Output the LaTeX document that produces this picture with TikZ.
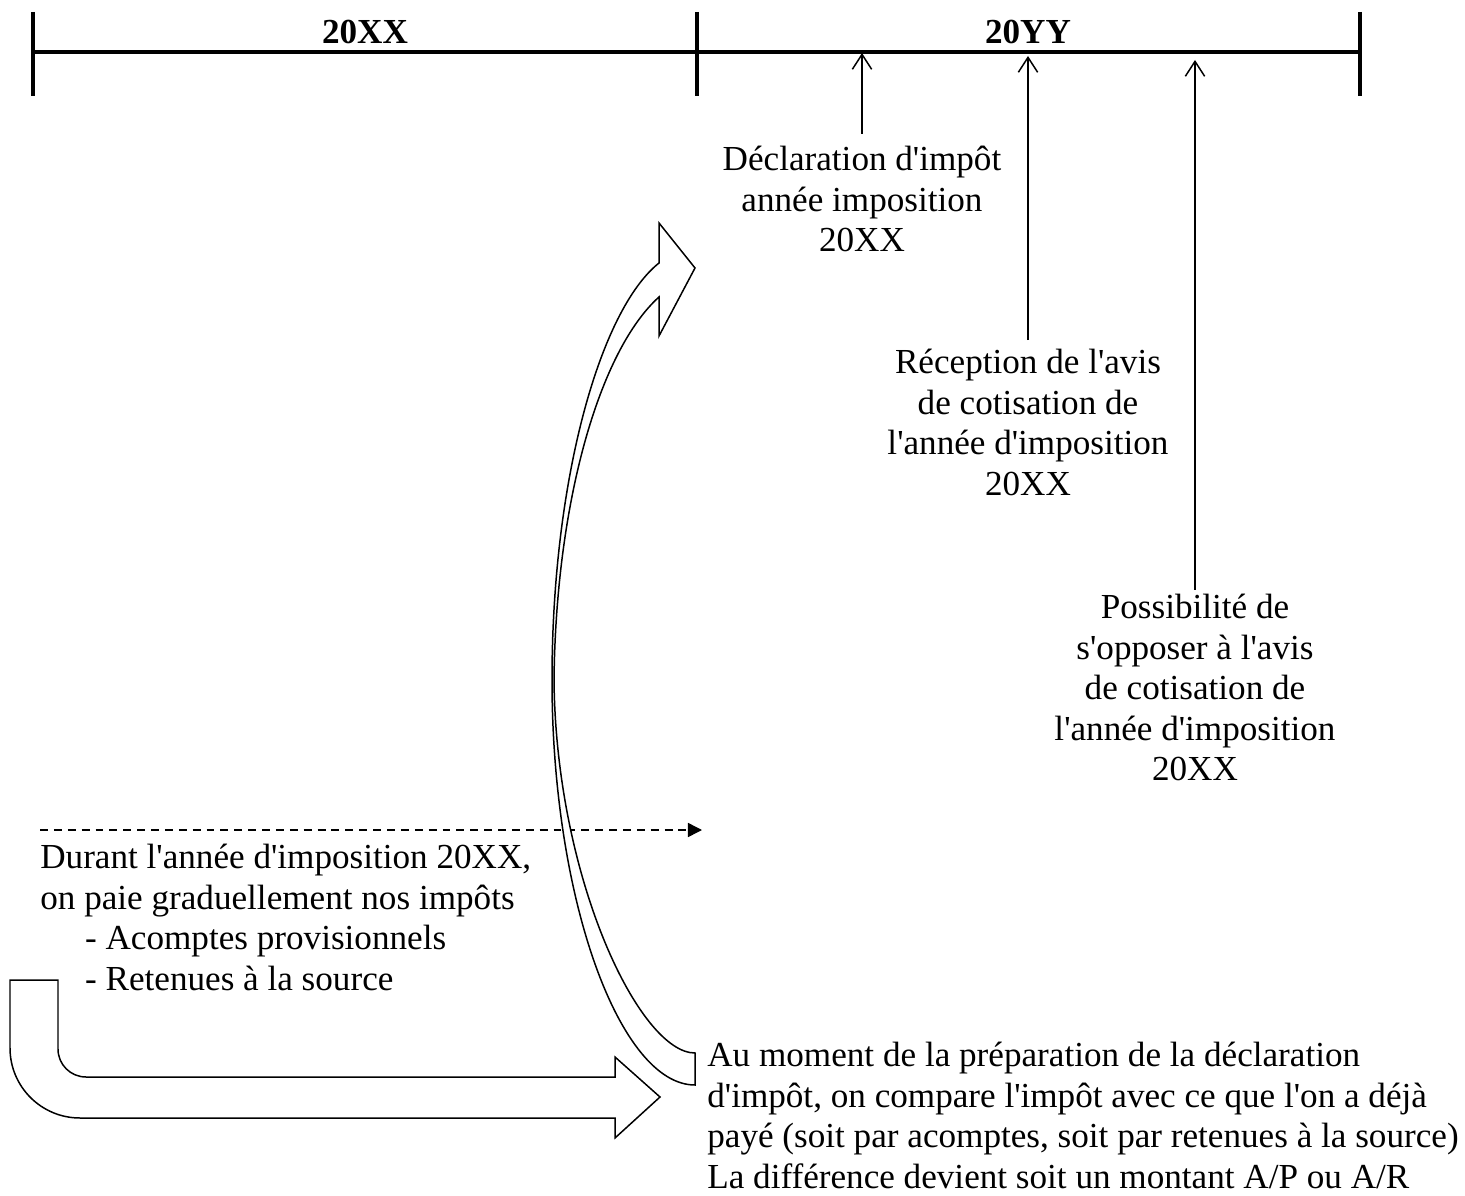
\documentclass[tikz,border=0pt]{standalone}
\usepackage{fontspec}
\newfontfamily\lbl{Liberation Serif}
\usetikzlibrary{arrows.meta}

\begin{document}
\begin{tikzpicture}[x=0.02cm, y=-0.02cm,
  txt/.style={font=\lbl\fontsize{20pt}{23pt}\selectfont, inner sep=0pt},
  year/.style={font=\lbl\bfseries\fontsize{20pt}{23pt}\selectfont, inner sep=0pt, anchor=base},
  axis/.style={line width=2.3pt},
  callout/.style={line width=0.85pt, -{Straight Barb[length=8.5pt,width=11pt,line width=0.85pt]}},
  flow/.style={line width=0.85pt, dash pattern=on 4.5pt off 3.4pt, -{Triangle[length=8pt,width=8pt]}},
  blockarrow/.style={line width=0.85pt, fill=white, line join=miter}]
\useasboundingbox (0,0) rectangle (1465,1196);

% time axis with the two years
\coordinate (y0) at (33,52);
\coordinate (y2) at (1360,52);
\draw[axis] (y0) -- (y2);
\foreach \x in {33,697,1360} \draw[axis] (\x,12) -- (\x,96);
\node[year] (yrA) at (365,44) {20XX};
\node[year] (yrB) at (1028,44) {20YY};

% events of the second year
\coordinate (m1) at (862,53);
\coordinate (m2) at (1028,56);
\coordinate (m3) at (1195,60);
\node[txt, align=center, anchor=north] (decl) at (862,146)
  {Déclaration d'impôt\\année imposition\\20XX};
\node[txt, align=center, anchor=north] (avis) at (1028,349)
  {Réception de l'avis\\de cotisation de\\l'année d'imposition\\20XX};
\node[txt, align=center, anchor=north] (oppo) at (1195,594)
  {Possibilité de\\s'opposer à l'avis\\de cotisation de\\l'année d'imposition\\20XX};
\draw[callout, shorten <=7pt] (decl.north) -- (m1);
\draw[callout, shorten <=5pt] (avis.north) -- (m2);
\draw[callout, shorten <=2.3pt] (oppo.north) -- (m3);

% payments during the first year
\coordinate (d0) at (40,830);
\coordinate (d1) at (702,830);
\draw[flow] (d0) -- (d1);
\node[txt, align=left, anchor=north west] (during) at (40,844)
  {Durant l'année d'imposition 20XX,\\
   on paie graduellement nos impôts\\
   \hspace*{25.5pt}- Acomptes provisionnels\\
   \hspace*{25.5pt}- Retenues à la source};

\node[txt, align=left, anchor=north west] (compare) at (707,1042)
  {Au moment de la préparation de la déclaration\\
   d'impôt, on compare l'impôt avec ce que l'on a déjà\\
   payé (soit par acomptes, soit par retenues à la source)\\
   La différence devient soit un montant A/P ou A/R};

% curved arrow back up to the tax return
\draw[blockarrow] (695,1053) -- (695,1085)
  .. controls (620,1085) and (552,900) .. (552,680)
  .. controls (552,480) and (600,310) .. (659,263)
  -- (659,223) -- (695,268) -- (659,336) -- (659,297)
  .. controls (600,350) and (556,500) .. (554,680)
  .. controls (556,880) and (640,1053) .. (695,1053) -- cycle;

% bent arrow towards the comparison
\draw[blockarrow] (10,980) -- (10,1048)
  .. controls (10,1086.7) and (41.3,1118) .. (80,1118)
  -- (615,1118) -- (615,1138) -- (660,1097) -- (615,1057) -- (615,1077)
  -- (86,1077) .. controls (70.5,1077) and (58,1064.5) .. (58,1049)
  -- (58,980) -- cycle;
\end{tikzpicture}
\end{document}
